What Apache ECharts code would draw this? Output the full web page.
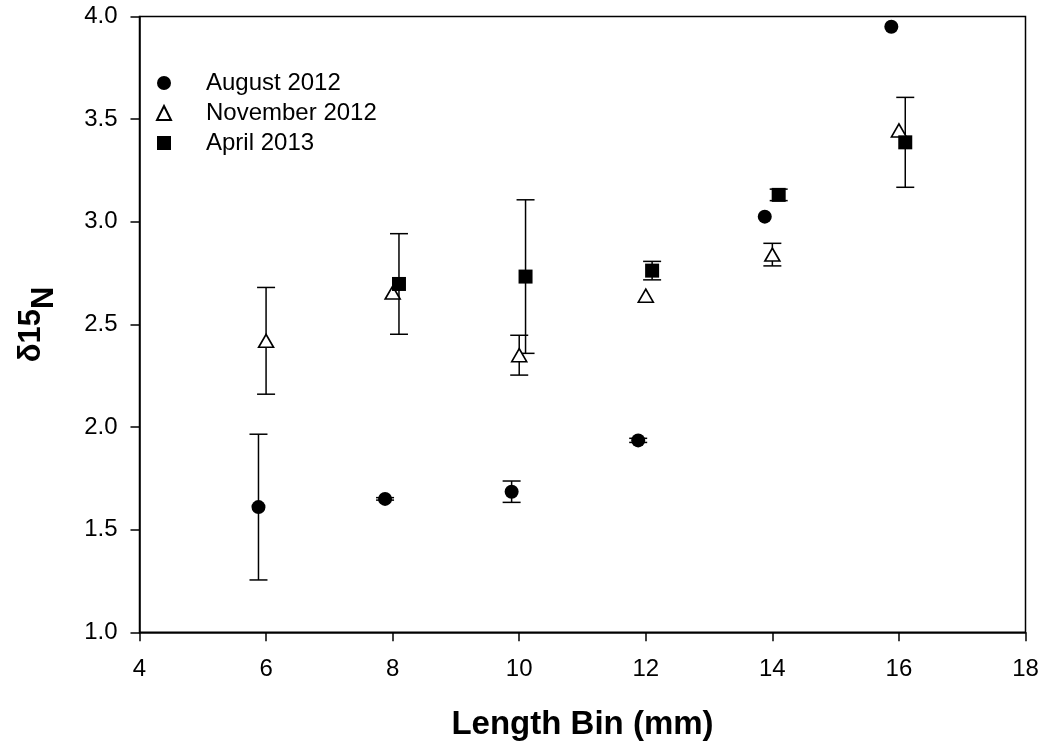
<!DOCTYPE html>
<html>
<head>
<meta charset="utf-8">
<script src="https://cdn.jsdelivr.net/npm/echarts@6/dist/echarts.min.js"></script>
<style>
  html, body { margin: 0; padding: 0; background: #fff; }
  #chart { width: 1046px; height: 748px; }
</style>
</head>
<body>
<div id="chart"></div>
<script>
// δ15N by length bin, three sampling dates (mean ± error)
const seriesNames = ['August 2012', 'November 2012', 'April 2013'];

const augX = [5.88, 7.88, 9.88, 11.88, 13.88, 15.88];
const augY = [1.61, 1.65, 1.685, 1.935, 3.025, 3.95];
const augErr = [0.355, 0.006, 0.052, 0.01, 0, 0];

const novX = [6, 8, 10, 12, 14, 16];
const novY = [2.42, 2.655, 2.35, 2.64, 2.84, 3.445];
const novErr = [0.26, 0, 0.097, 0, 0.055, 0];

const aprX = [8.1, 10.1, 12.1, 14.1, 16.1];
const aprY = [2.697, 2.733, 2.762, 3.131, 3.387];
const aprErr = [0.245, 0.374, 0.045, 0.028, 0.219];

const xTicks = { min: 4, max: 18, interval: 2 };
const yTicks = { min: 1.0, max: 4.0, interval: 0.5 };

const FONT = '"Liberation Sans", Arial, sans-serif';

function points(xs, ys) {
  return xs.map((x, i) => [x, ys[i]]);
}

// Vertical error bar with end caps, drawn through the axis scales
function errorBars(id, xs, ys, errs) {
  const data = xs.map((x, i) => [x, ys[i], errs[i]]).filter(d => d[2] > 0);
  return {
    id: id,
    type: 'custom',
    silent: true,
    z: 1,
    encode: { x: 0, y: 1 },
    data: data,
    renderItem: function (params, api) {
      const x = api.value(0), y = api.value(1), e = api.value(2);
      const top = api.coord([x, y + e]);
      const bot = api.coord([x, y - e]);
      const half = 9;
      const style = { stroke: '#000', lineWidth: 1.5, fill: null };
      return {
        type: 'group',
        children: [
          { type: 'line', shape: { x1: top[0], y1: top[1], x2: bot[0], y2: bot[1] }, style: style },
          { type: 'line', shape: { x1: top[0] - half, y1: top[1], x2: top[0] + half, y2: top[1] }, style: style },
          { type: 'line', shape: { x1: bot[0] - half, y1: bot[1], x2: bot[0] + half, y2: bot[1] }, style: style }
        ]
      };
    }
  };
}

const chart = echarts.init(document.getElementById('chart'), null, { renderer: 'canvas' });

const axisLine = { show: true, lineStyle: { color: '#000', width: 1.5 } };
const axisTick = { show: true, inside: false, length: 9, lineStyle: { color: '#000', width: 1.5 } };
const axisLabel = { color: '#000', fontSize: 24, fontFamily: FONT, margin: 22 };

chart.setOption({
  animation: false,
  backgroundColor: '#fff',
  grid: {
    left: 139.5, right: 20.5, top: 16.5, bottom: 115.7,
    show: true, borderColor: '#000', borderWidth: 1.5, backgroundColor: 'transparent'
  },
  legend: {
    orient: 'vertical',
    left: 151, top: 66,
    itemWidth: 14, itemHeight: 14, itemGap: 6,
    data: seriesNames,
    textStyle: { color: '#000', fontSize: 24, fontFamily: FONT, lineHeight: 23, padding: [0, 0, 0, 30] }
  },
  xAxis: {
    type: 'value',
    min: xTicks.min, max: xTicks.max, interval: xTicks.interval,
    name: 'Length Bin (mm)',
    nameLocation: 'middle',
    nameGap: 76,
    nameTextStyle: { color: '#000', fontSize: 33, fontWeight: 'bold', fontFamily: FONT },
    axisLine: axisLine, axisTick: axisTick,
    axisLabel: Object.assign({}, axisLabel, { margin: 25 }),
    splitLine: { show: false }
  },
  yAxis: {
    type: 'value',
    min: yTicks.min, max: yTicks.max, interval: yTicks.interval,
    name: '{d|δ15}{s|N}',
    nameLocation: 'middle',
    nameRotate: 90,
    nameGap: 80,
    nameTextStyle: {
      color: '#000', fontFamily: FONT, fontWeight: 'bold',
      rich: {
        d: { fontSize: 31, fontWeight: 'bold', fontFamily: FONT, color: '#000', lineHeight: 44, verticalAlign: 'top' },
        s: { fontSize: 31, fontWeight: 'bold', fontFamily: FONT, color: '#000', lineHeight: 44, verticalAlign: 'bottom' }
      }
    },
    axisLine: axisLine, axisTick: axisTick,
    axisLabel: Object.assign({}, axisLabel, { formatter: v => v.toFixed(1) }),
    splitLine: { show: false }
  },
  series: [
    errorBars('augErr', augX, augY, augErr),
    errorBars('novErr', novX, novY, novErr),
    errorBars('aprErr', aprX, aprY, aprErr),
    {
      name: seriesNames[0], type: 'scatter', z: 3,
      symbol: 'circle', symbolSize: 14,
      itemStyle: { color: '#000', opacity: 1 },
      data: points(augX, augY)
    },
    {
      name: seriesNames[1], type: 'scatter', z: 3,
      symbol: 'triangle', symbolSize: [15, 13],
      itemStyle: { color: '#fff', borderColor: '#000', borderWidth: 1.6, opacity: 1 },
      data: points(novX, novY)
    },
    {
      name: seriesNames[2], type: 'scatter', z: 3,
      symbol: 'rect', symbolSize: 14,
      itemStyle: { color: '#000', opacity: 1 },
      data: points(aprX, aprY)
    }
  ]
});
</script>
</body>
</html>
